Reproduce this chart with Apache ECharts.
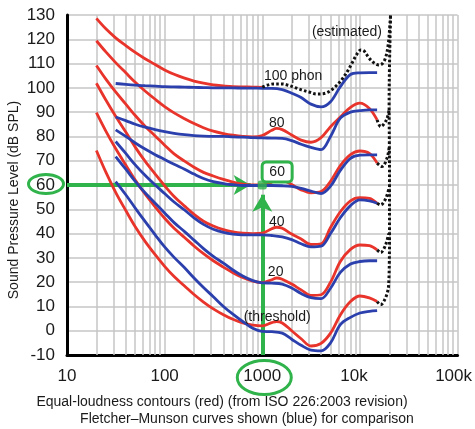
<!DOCTYPE html>
<html><head><meta charset="utf-8">
<script src="https://cdn.jsdelivr.net/npm/echarts@6/dist/echarts.min.js"></script>
<style>html,body{margin:0;padding:0;background:#fff}#c{width:475px;height:429px}</style>
</head><body><div id="c"></div>
<script>
// ---- data ----
const redFreq = [20,25,31.5,40,50,63,80,100,125,160,200,250,315,400,500,630,800,1000,1250,1400,1600,2000,2500,3150,4000,5000,6300,8000,10000,12500,15000];
const red100 = [128.6,124.3,120.6,117.4,114.6,112,109.6,107.4,105.6,104,102.8,101.9,101.2,100.8,100.5,100.4,100.3,100.2];
const red80 = [119.4,114.8,110.4,106.2,102.3,98.7,95.3,92.3,89.7,87.3,85.3,83.6,82.2,81.2,80.5,80,79.8,80.4,82.5,83.3,82.8,80.6,78.5,77.6,79.5,84,88,92,93.7,91.5,86.8];
const red60 = [109.2,103.6,98.3,93.3,88.6,84.2,80.2,76.4,72.8,69.8,67.3,65.2,63.7,62.3,61.2,60.4,60,60,61.2,62.2,62,60.2,58,56.8,57.3,61.5,68,72.5,74,73,69];
const red40 = [101.9,95,88.3,81.8,75.6,69.8,64.5,59.7,55.3,51.3,47.9,45.1,43.1,41.6,40.7,40.2,40,40.2,42,42.6,42.2,39.8,37.8,35.5,35.8,42.5,49,53.5,54.8,54.5,52.5];
const red20 = [89.8,82.2,75,68.2,62,56.3,51,46.3,42.2,38.4,34.9,31.7,28.8,26.2,23.9,21.9,20.4,19.8,21,21.7,21.2,19.2,16.8,14.5,14.8,20,28.5,33.5,35.3,35,33.3];
const red0 = [74.2,65.3,57,49.5,42.8,36.8,31.3,26.5,22.3,18.4,14.9,11.8,9,6.6,4.7,3.2,2.3,2,3.3,3.8,3.2,0,-3.3,-6.3,-5.2,-1,6.5,12,14.3,13.5,12];

const blueFreq = [31.5,40,50,63,80,100,125,160,200,250,315,400,500,630,800,1000,1250,1600,2000,2500,3150,4000,5000,6300,8000,10000,12500,15000];
const blue100 = [101.8,101.4,101.1,100.9,100.7,100.5,100.4,100.3,100.2,100.1,100,100,100,99.9,99.9,99.8,99.8,99.3,97.8,96,93.3,92.2,94.3,100.5,105.5,106.2,106.3,106.3];
const blue80 = [88,86.5,85,83.8,82.8,82,81.3,80.7,80.3,80.1,80,80,79.8,79.7,79.5,79.4,79.3,79.2,78.3,76.8,75.5,74.6,80,87.5,90,90.6,90.9,90.9];
const blue60 = [82.7,80,77.3,74.8,72.5,70.5,68.5,66.5,64.5,62.7,61.4,60.6,60.1,59.8,59.8,59.8,59.8,59.7,59.4,58.6,57.5,56.5,59.5,66,71,72.3,72.4,72.4];
const blue40 = [77.9,73,68.3,64,60,56.5,53,49.7,46.5,43.8,41.8,40.5,39.8,39.5,39.5,39.5,39.2,38.6,37.5,35.8,34.5,34.8,40,46.5,51.5,53.9,53.5,52.5];
const blue20 = [71.7,66.5,61.5,56.8,52.5,48.5,44.5,40.8,37.3,33.8,30.6,27.8,25,22.5,20.6,19.7,19.6,19.2,17.6,15.3,13.6,13.2,17.5,24,27.5,28.5,28.8,28.8];
const blue0 = [61.4,56,50.5,45,39.5,34.5,30.2,25.9,21.7,17.8,14,10,6.8,3.8,1,-0.3,-0.4,-1,-3.5,-6,-8,-8.3,-5,2.5,5.5,7.3,8,8.3];

// estimated (dotted) parts: [frequency, level]
const est100 = [[1000,100.3],[1100,101],[1300,101.6],[1600,101.6],[1800,101.2],[2200,100],[2600,99],[3000,98.3],[3600,97.5],[4200,97.6],[4800,98.4],[5600,100.5],[6500,103.3],[7500,107],[8300,110.2],[9200,113.5],[10200,115.6],[11000,115.2],[12400,112.3],[14000,110.2],[15600,109.4],[17000,110],[18400,112.7],[19500,118],[20200,125],[20600,130]];
const estEdge = [[15000,12],[16300,10.7],[17900,12.7],[19400,16.8],[19800,21],[20000,28],[20100,40],[20100,60],[20000,80],[19900,91],[20100,110],[20600,130]];
const est80 = [[15000,86.8],[16300,84],[18700,86.8],[19900,91]];
const est60 = [[15000,69],[16800,67.6],[19000,71.2],[20000,76]];
const est40 = [[15000,52.5],[16300,51.8],[18500,54.7],[19900,59]];
const est20 = [[15000,33.3],[16300,32.2],[18300,35.3],[19700,40]];

const xTickLabels = {10:'10',100:'100',1000:'1000',10000:'10k',100000:'100k'};
const minorFreqs = [20,30,40,50,60,70,80,90,200,300,400,500,600,700,800,900,2000,3000,4000,5000,6000,7000,8000,9000,20000,30000,40000,50000,60000,70000,80000,90000];
const curveLabelText = ['(estimated)','100 phon','80','60','40','20','(threshold)'];
const curveLabelFreq = [7360,2070,1405,1420,1405,1370,1420];
const curveLabelLevel = [123,105,85.3,65.4,44.8,24.0,5.7];
const refLevel = 60, refFreq = 1000;

// ---- chart ----
const FONT = "'Liberation Sans', Arial, sans-serif";
const RED = '#e8342b', BLUE = '#2c40ad', GREEN = '#30b34b', GRID = '#c6c6c6';
const zip = (fs, vs) => vs.map((v, i) => [fs[i], v]);
const chart = echarts.init(document.getElementById('c'), null, {renderer: 'canvas'});

const series = [];
series.push({type:'line', data:[], z:1, zlevel:0, silent:true,
  markLine:{silent:true, symbol:'none', animation:false, label:{show:false},
    lineStyle:{color:GRID, width:1.5, type:'solid'}, emphasis:{disabled:true},
    data: minorFreqs.map(f => ({xAxis:f}))}});
[red100, red80, red60, red40, red20, red0].forEach(arr => series.push({
  type:'line', data: zip(redFreq, arr), smooth:0.35, symbol:'none', z:3, zlevel:1, silent:true,
  lineStyle:{color:RED, width:2.8}}));
[blue100, blue80, blue60, blue40, blue20, blue0].forEach(arr => series.push({
  type:'line', data: zip(blueFreq, arr), smooth:0.35, symbol:'none', z:4, zlevel:1, silent:true,
  lineStyle:{color:BLUE, width:2.8}}));
[est100, estEdge, est80, est60, est40, est20].forEach(arr => series.push({
  type:'line', data: arr, smooth:0.35, symbol:'none', z:5, zlevel:1, silent:true,
  lineStyle:{color:'#111', width:3, type:[2.6,2.2]}}));
series.push({type:'scatter', data:[[refFreq, refLevel]], symbol:'roundRect', symbolSize:9, z:7, zlevel:1, silent:true,
  itemStyle:{color:GREEN},
  markLine:{silent:true, animation:false, symbol:['none','arrow'], symbolSize:[15,17], label:{show:false},
    lineStyle:{color:GREEN, width:4, type:'solid'}, emphasis:{disabled:true},
    data:[
      [{coord:[10, refLevel]}, {coord:[760, refLevel]}],
      [{coord:[refFreq, -10]}, {coord:[refFreq, 56]}]
    ]}});

const option = {
  animation:false,
  grid:{left:67, top:15, width:392, height:340},
  xAxis:{type:'log', logBase:10, min:10, max:100000,
    axisLine:{show:true, onZero:false, lineStyle:{color:'#000', width:3}},
    axisTick:{show:false},
    splitLine:{show:true, lineStyle:{color:GRID, width:1.5}},
    axisLabel:{fontFamily:FONT, fontSize:17, color:'#1a1a1a', margin:13,
      formatter: v => {
        const t = xTickLabels[Math.round(v)] || '';
        if (t === '10k') return '{a|' + t + '}';
        if (t === '100k') return '{b|' + t + '}';
        return t;
      },
      rich:{a:{fontFamily:FONT, fontSize:17, color:'#1a1a1a', padding:[0,12,0,0]},
            b:{fontFamily:FONT, fontSize:17, color:'#1a1a1a', padding:[0,8,0,0]}}}},
  yAxis:{type:'value', min:-10, max:130, interval:10,
    axisLine:{show:true, lineStyle:{color:'#000', width:3}},
    axisTick:{show:false},
    splitLine:{show:true, lineStyle:{color:GRID, width:1.5}},
    axisLabel:{fontFamily:FONT, fontSize:17, color:'#1a1a1a', margin:12}},
  series: series
};
chart.setOption(option);

const px = (f, v) => chart.convertToPixel({gridIndex:0}, [f, v]);
const graphics = [];
curveLabelText.forEach((t, i) => {
  const p = px(curveLabelFreq[i], curveLabelLevel[i]);
  graphics.push({type:'text', x:p[0], y:p[1], z:20, zlevel:2,
    style:{text:t, font:'14px ' + FONT, fill:'#1a1a1a', align:'center', verticalAlign:'middle'}});
});
// green box around the "60" curve label
const l60 = px(curveLabelFreq[3], curveLabelLevel[3]);
graphics.push({type:'rect', z:19, zlevel:2, shape:{x:l60[0]-15, y:l60[1]-10, width:30, height:20, r:4},
  style:{fill:'#fff', stroke:GREEN, lineWidth:3}});
// green ellipse around the "60" tick label
const y60 = px(10, refLevel);
graphics.push({type:'ellipse', z:20, zlevel:2, shape:{cx:y60[0]-21, cy:y60[1]-1, rx:17.5, ry:9.5},
  style:{fill:null, stroke:GREEN, lineWidth:3}});
// green ellipse around the "1000" tick label
const x1k = px(refFreq, -10);
graphics.push({type:'ellipse', z:20, zlevel:2, shape:{cx:x1k[0]+2, cy:x1k[1]+22.5, rx:27, ry:17},
  style:{fill:null, stroke:GREEN, lineWidth:3}});
// axis name
graphics.push({type:'text', x:14, y:200, rotation:Math.PI/2, z:20, zlevel:2,
  style:{text:'Sound Pressure Level (dB SPL)', font:'14px ' + FONT, fill:'#1a1a1a', align:'center', verticalAlign:'middle'}});
// captions
graphics.push({type:'text', x:222, y:402, z:20, zlevel:2,
  style:{text:'Equal-loudness contours (red) (from ISO 226:2003 revision)', font:'14px ' + FONT, fill:'#1a1a1a', align:'center', verticalAlign:'middle'}});
graphics.push({type:'text', x:247, y:419, z:20, zlevel:2,
  style:{text:'Fletcher\u2013Munson curves shown (blue) for comparison', font:'14px ' + FONT, fill:'#1a1a1a', align:'center', verticalAlign:'middle'}});
chart.setOption({graphic:{elements:graphics}});
</script></body></html>
